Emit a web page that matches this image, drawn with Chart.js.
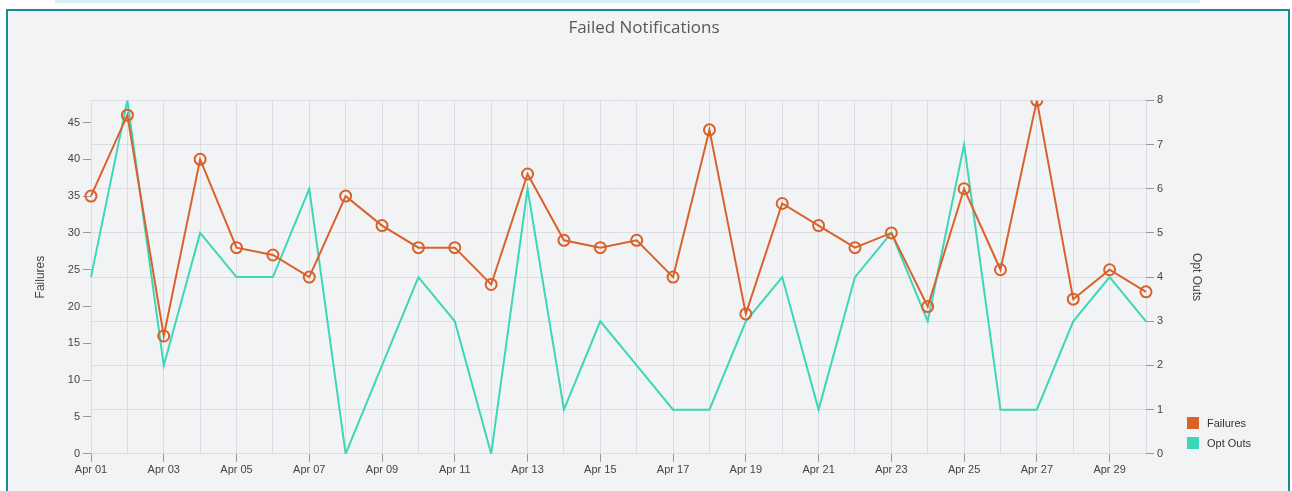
<!DOCTYPE html>
<html>
<head>
<meta charset="utf-8">
<script src="https://cdn.jsdelivr.net/npm/chart.js@4"></script>
<style>
    html, body { margin: 0; padding: 0; background: #fff; overflow: hidden; }
    .strip { position: absolute; left: 55px; top: 0; width: 1145px; height: 3px; background: #d8eff3; }
    .frame { position: absolute; left: 6px; top: 9px; width: 1280px; height: 500px; border: 2px solid #1a8b95; background: #f2f3f5; }
    #wrap { position: absolute; left: 0; top: 0; width: 1292px; height: 491px; }
    .legend { position: absolute; left: 1187px; top: 417px; font: 11px "Liberation Sans", Arial, sans-serif; color: #333; }
    .legend div { height: 20px; line-height: 13px; }
    .legend span { display: inline-block; width: 12px; height: 12px; vertical-align: top; margin-right: 8px; }
</style>
</head>
<body>
<div class="strip"></div>
<div class="frame"></div>
<div id="wrap"><canvas id="chart"></canvas></div>
<div class="legend" id="legend"></div>
<script>
const days = ['Apr 01', 'Apr 02', 'Apr 03', 'Apr 04', 'Apr 05', 'Apr 06', 'Apr 07', 'Apr 08', 'Apr 09', 'Apr 10',
    'Apr 11', 'Apr 12', 'Apr 13', 'Apr 14', 'Apr 15', 'Apr 16', 'Apr 17', 'Apr 18', 'Apr 19', 'Apr 20',
    'Apr 21', 'Apr 22', 'Apr 23', 'Apr 24', 'Apr 25', 'Apr 26', 'Apr 27', 'Apr 28', 'Apr 29', 'Apr 30'];
const failures = [35, 46, 16, 40, 28, 27, 24, 35, 31, 28, 28, 23, 38, 29, 28, 29, 24, 44, 19, 34,
    31, 28, 30, 20, 36, 25, 48, 21, 25, 22];
const optOuts = [4, 8, 2, 5, 4, 4, 6, 0, 2, 4, 3, 0, 6, 1, 3, 2, 1, 1, 3, 4,
    1, 4, 5, 3, 7, 1, 1, 3, 4, 3];
const seriesNames = ['Failures', 'Opt Outs'];
const seriesColors = ['#d9622b', '#3dd6b9'];

Chart.defaults.font.family = '"Liberation Sans", Arial, sans-serif';
Chart.defaults.color = '#444';

const ctx = document.getElementById('chart').getContext('2d');
new Chart(ctx, {
    type: 'line',
    data: {
        labels: days,
        datasets: [
            {
                label: seriesNames[0],
                data: failures,
                yAxisID: 'y',
                borderColor: seriesColors[0],
                backgroundColor: seriesColors[0],
                borderWidth: 2,
                tension: 0,
                pointRadius: 5.5,
                pointBorderWidth: 2,
                pointBackgroundColor: 'transparent',
                pointBorderColor: seriesColors[0]
            },
            {
                label: seriesNames[1],
                data: optOuts,
                yAxisID: 'y1',
                borderColor: seriesColors[1],
                backgroundColor: seriesColors[1],
                borderWidth: 2,
                tension: 0,
                pointRadius: 0
            }
        ]
    },
    options: {
        responsive: true,
        maintainAspectRatio: false,
        animation: false,
        // symmetric-ish padding keeps the title centred on the page
        layout: { padding: { left: 20, right: 24, top: 8, bottom: 12 } },
        plugins: {
            legend: { display: false },
            tooltip: { enabled: false },
            title: {
                display: true,
                text: 'Failed Notifications',
                color: '#595959',
                font: { family: '"Open Sans", "Noto Sans", sans-serif', size: 17, weight: 'normal' },
                padding: { top: 10, bottom: 62 }
            }
        },
        scales: {
            x: {
                ticks: {
                    autoSkip: false,
                    maxRotation: 0,
                    padding: 2,
                    font: { size: 11 },
                    color: '#444',
                    callback: function(value, index) {
                        return index % 2 === 0 ? this.getLabelForValue(value) : '';
                    }
                },
                grid: {
                    color: '#dcdde0',
                    tickLength: 8,
                    tickColor: c => c.index % 2 === 0 ? '#999' : 'transparent'
                },
                border: { display: false }
            },
            y: {
                position: 'left',
                min: 0,
                max: 48,
                afterBuildTicks: axis => { axis.ticks = axis.ticks.filter(t => t.value % 5 === 0); },
                afterFit: axis => { axis.width = 71; },
                ticks: { stepSize: 5, padding: 3, font: { size: 11 }, color: '#444' },
                grid: { drawOnChartArea: false, tickLength: 8, tickColor: '#999' },
                border: { display: false },
                title: { display: true, text: 'Failures', font: { size: 12 }, color: '#444', padding: { top: 13, bottom: 4 } }
            },
            y1: {
                position: 'right',
                min: 0,
                max: 8,
                afterFit: axis => { axis.width = 122; },
                ticks: { stepSize: 1, padding: 3, font: { size: 11 }, color: '#444' },
                grid: { color: '#dcdde0', tickLength: 8, tickColor: '#999' },
                border: { display: false },
                title: { display: true, text: 'Opt Outs', font: { size: 12 }, color: '#444', padding: { top: 64, bottom: 4 } }
            }
        }
    }
});

document.getElementById('legend').innerHTML = seriesNames
    .map((name, i) => `<div><span style="background:${seriesColors[i]}"></span>${name}</div>`)
    .join('');
</script>
</body>
</html>
